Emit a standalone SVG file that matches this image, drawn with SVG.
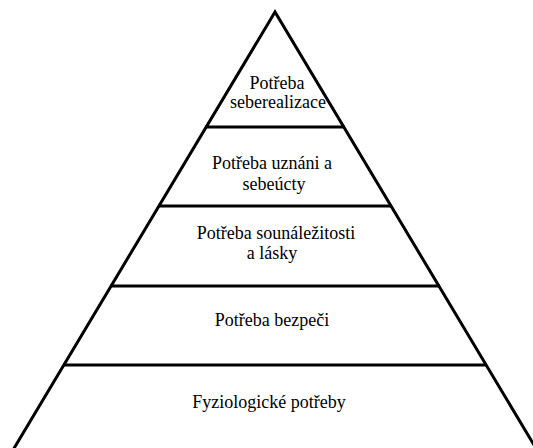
<svg xmlns="http://www.w3.org/2000/svg" width="533" height="448" viewBox="0 0 533 448">
<style>
.l{stroke:#000;stroke-width:3;fill:none;stroke-linecap:butt}
.t{font-family:'Liberation Serif','Times New Roman',Times,'DejaVu Serif',serif;font-size:18px;fill:#000;text-anchor:middle}
</style>
<rect width="533" height="448" fill="#fff"/>
<g id="pyramid">
<polyline class="l" points="13,450 275,12 537,450"/>
</g>
<g id="connectors">
<line class="l" x1="205" y1="127" x2="345" y2="127"/>
<line class="l" x1="158" y1="206" x2="392" y2="206"/>
<line class="l" x1="110" y1="286" x2="440" y2="286"/>
<line class="l" x1="63" y1="365" x2="487" y2="365"/>
</g>
<g id="level5"><text class="t" x="277" y="89">Potřeba</text><text class="t" x="278" y="108">seberealizace</text></g>
<g id="level4"><text class="t" x="272" y="169">Potřeba uznáni a</text><text class="t" x="274" y="190">sebeúcty</text></g>
<g id="level3"><text class="t" x="276" y="239">Potřeba sounáležitosti</text><text class="t" x="272" y="259">a lásky</text></g>
<g id="level2"><text class="t" x="272" y="326">Potřeba bezpeči</text></g>
<g id="level1"><text class="t" x="269" y="408">Fyziologické potřeby</text></g>
</svg>
